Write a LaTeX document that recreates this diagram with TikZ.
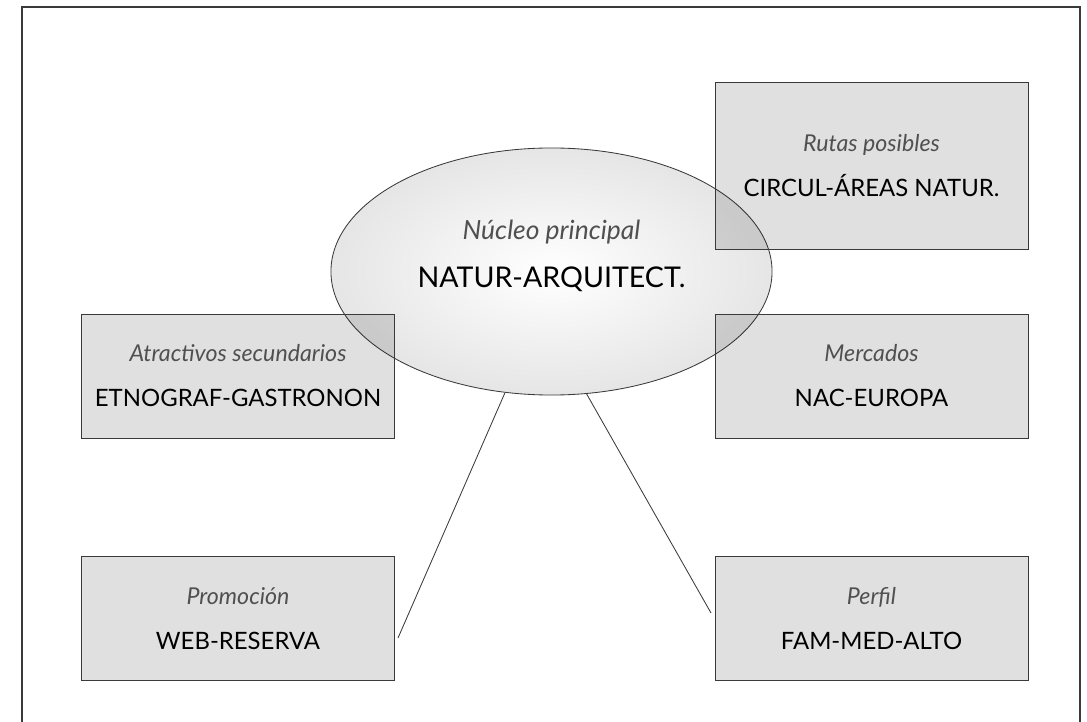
\documentclass[tikz,border=0pt]{standalone}
\usepackage{fontspec}
\setmainfont{Lato}
\usetikzlibrary{shapes.geometric}

\definecolor{edgegray}{HTML}{3A3A3A}
\definecolor{taggray}{HTML}{505050}
\newcommand\tagtxt{\fontsize{16.5}{18}\selectfont\itshape\color{taggray}}
\newcommand\valtxt{\fontsize{17}{20}\selectfont\color{black}}

\begin{document}
\begin{tikzpicture}[
    x=0.025cm, y=-0.025cm,
    box_style/.style={rectangle, draw=edgegray, line width=0.6pt, fill=black, fill opacity=0.12, text opacity=1,
        minimum width=7.825cm, minimum height=3.1cm, inner sep=0pt, align=center, font=\fontsize{17}{20}\selectfont},
    tall_box/.style={box_style, minimum height=4.175cm},
    oval_style/.style={ellipse, draw=edgegray, line width=0.6pt, inner color=white, outer color=black!10,
        minimum width=11.025cm, minimum height=6.175cm, inner sep=0pt},
    link_style/.style={edgegray, line width=0.6pt}
]
    \useasboundingbox (0,0) rectangle (1087,722);

    % --- open frame, its bottom edge lies below the page ---
    \draw[edgegray, line width=1pt] (22,722) -- (22,7) -- (1080,7) -- (1080,722);

    % --- central oval ---
    \node[oval_style] (nucleo) at (551.5,271.5) {};
    \node[align=center, font=\fontsize{20.3}{22}\selectfont] (nucleo_txt) at (551.5,256)
        {{\tagtxt\fontsize{18.8}{18}\selectfont N\'ucleo principal}\\[12pt]NATUR-ARQUITECT.};

    % --- boxes round the oval ---
    \node[tall_box] (rutas) at (871.5,165.5)
        {{\tagtxt Rutas posibles}\\[12pt]{\valtxt CIRCUL-\'AREAS NATUR.}};
    \node[box_style] (atractivos) at (238,376)
        {{\tagtxt Atractivos secundarios}\\[12pt]{\valtxt ETNOGRAF-GASTRONON}};
    \node[box_style] (mercados) at (871.5,376)
        {{\tagtxt Mercados}\\[12pt]{\valtxt NAC-EUROPA}};
    \node[box_style] (promocion) at (238,618.5)
        {{\tagtxt Promoci\'on}\\[12pt]{\valtxt WEB-RESERVA}};
    \node[box_style] (perfil) at (871.5,618.5)
        {{\tagtxt Perfil}\\[12pt]{\valtxt FAM-MED-ALTO}};

    % --- connectors, free ends stop short of the boxes ---
    \coordinate (promo_tip) at (398,638);
    \coordinate (perfil_tip) at (711,613);
    \draw[link_style] (nucleo.-111) -- (promo_tip);
    \draw[link_style] (nucleo.-74) -- (perfil_tip);

\end{tikzpicture}
\end{document}
